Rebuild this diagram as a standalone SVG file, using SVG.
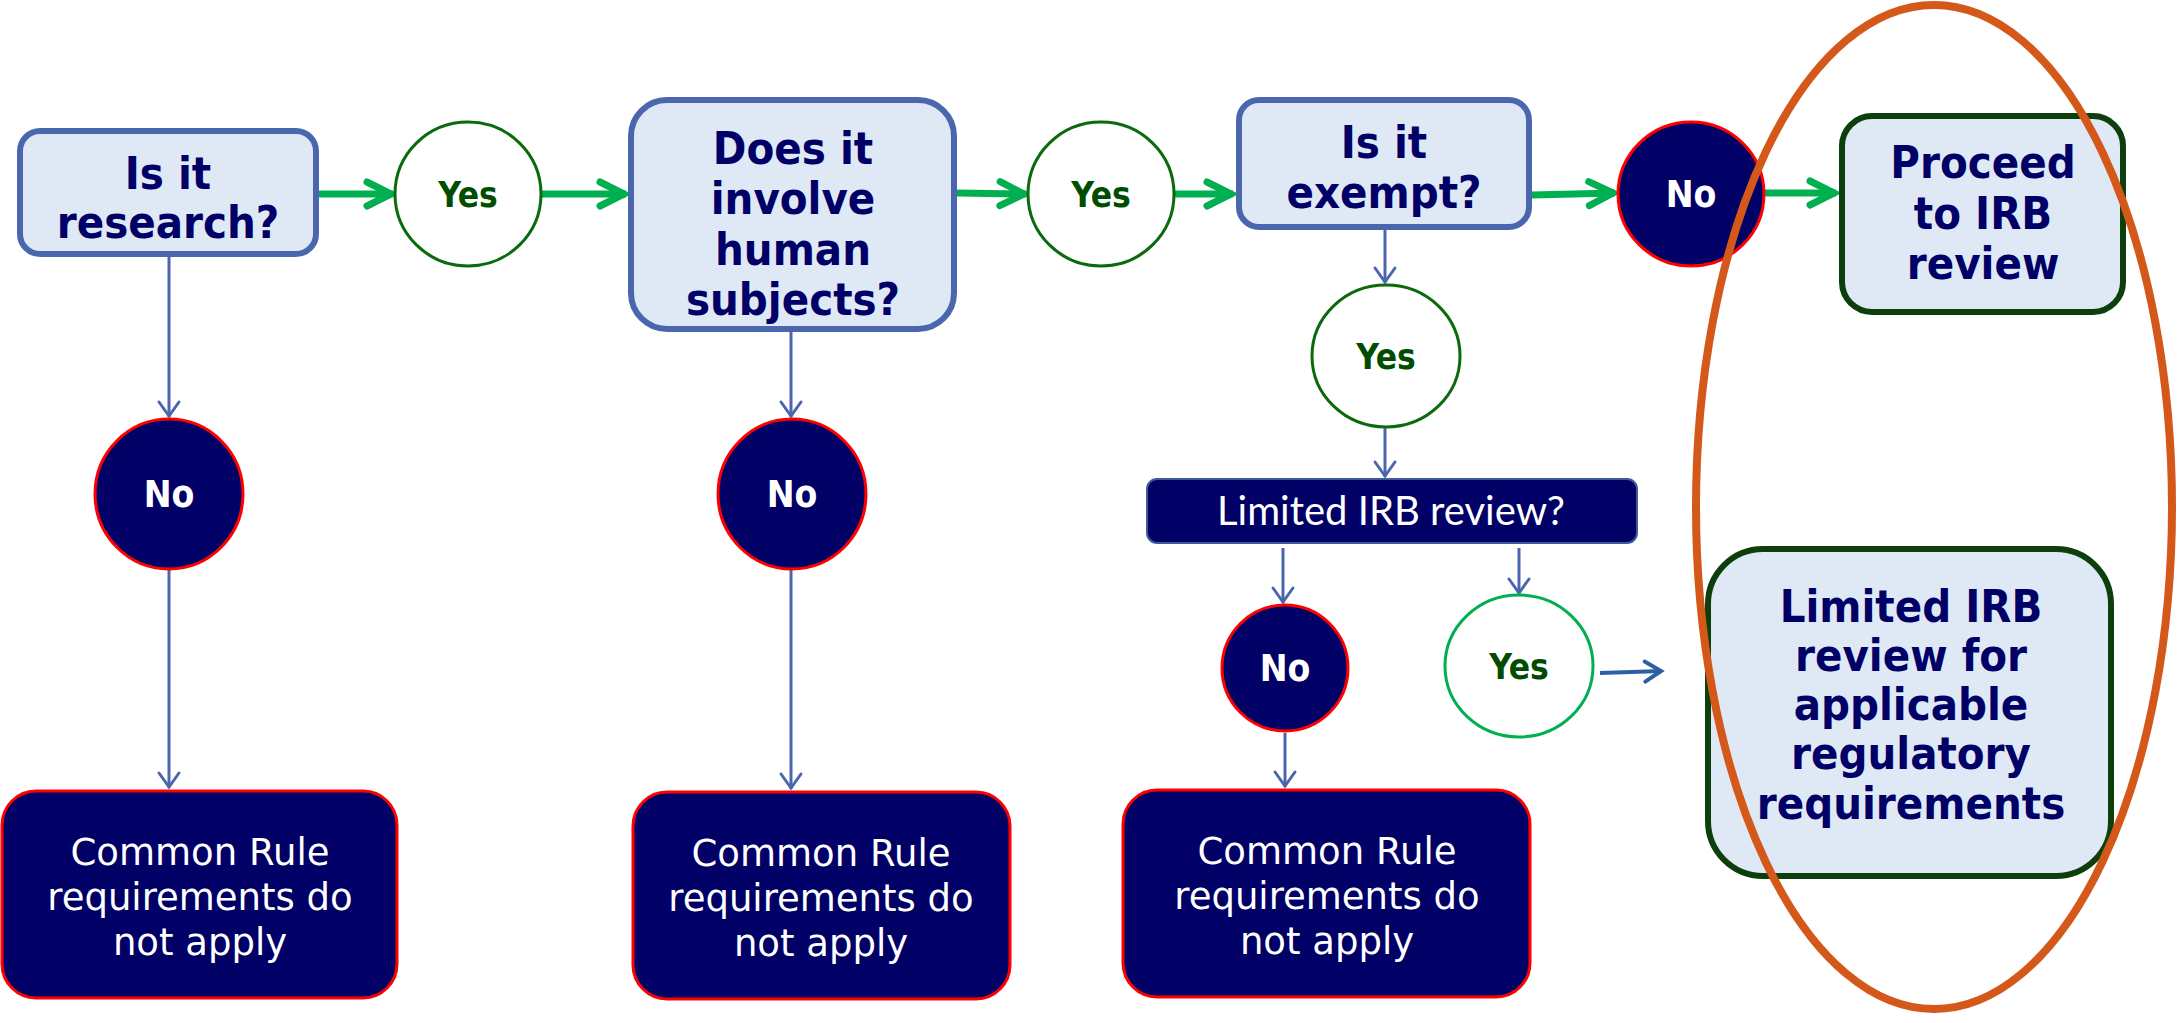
<svg xmlns="http://www.w3.org/2000/svg" width="2177" height="1023" viewBox="0 0 2177 1023">
  <defs>
    <style>
      .q { font-family: "DejaVu Sans Condensed", "DejaVu Sans", sans-serif; font-stretch: condensed; font-weight: bold; font-size: 45px; fill: #000066; text-anchor: middle; }
      .yes { font-family: "DejaVu Sans Condensed", "DejaVu Sans", sans-serif; font-stretch: condensed; font-weight: bold; font-size: 35px; fill: #004d00; text-anchor: middle; }
      .no { font-family: "DejaVu Sans Condensed", "DejaVu Sans", sans-serif; font-stretch: condensed; font-weight: bold; font-size: 37px; fill: #ffffff; text-anchor: middle; }
      .out { font-family: "DejaVu Sans", "Liberation Sans", sans-serif; font-size: 37px; fill: #ffffff; text-anchor: middle; }
      .lim { font-family: Lato, "Liberation Sans", sans-serif; font-size: 40px; fill: #ffffff; text-anchor: middle; }
      .qbox { fill: #dfe9f5; stroke: #4a67ad; stroke-width: 6; }
      .goal { fill: #dfe9f5; stroke: #0d3f0d; stroke-width: 6; }
      .yesc { fill: #ffffff; stroke: #0b6a0b; stroke-width: 3; }
      .yesl { fill: #ffffff; stroke: #00b050; stroke-width: 3; }
      .noc { fill: #000066; stroke: #ff0000; stroke-width: 3; }
      .endbox { fill: #000066; stroke: #ff0000; stroke-width: 3; }
      .green { fill: none; stroke: #00b050; stroke-width: 7; }
      .blue { fill: none; stroke: #4a67ad; stroke-width: 3; }
      .blue2 { fill: none; stroke: #2e5fa3; stroke-width: 4; }
    </style>
    <marker id="ag" markerUnits="userSpaceOnUse" viewBox="-32 -20 40 40" markerWidth="40" markerHeight="40" refX="0" refY="0" orient="auto">
      <path d="M-26,-12 L-2,0 L-26,12" fill="none" stroke="#00b050" stroke-width="7" stroke-linecap="round" stroke-linejoin="miter"/>
    </marker>
    <marker id="ab" markerUnits="userSpaceOnUse" viewBox="-20 -14 28 28" markerWidth="28" markerHeight="28" refX="0" refY="0" orient="auto">
      <path d="M-15,-10 L-1,0 L-15,10" fill="none" stroke="#4a67ad" stroke-width="3" stroke-linecap="round"/>
    </marker>
    <marker id="ab2" markerUnits="userSpaceOnUse" viewBox="-24 -16 32 32" markerWidth="32" markerHeight="32" refX="0" refY="0" orient="auto">
      <path d="M-17,-10 L-1,0 L-17,10" fill="none" stroke="#2e5fa3" stroke-width="4" stroke-linecap="round"/>
    </marker>
  </defs>

  <rect width="2177" height="1023" fill="#ffffff"/>

  <!-- connectors -->
  <g id="connectors">
    <line class="green" x1="319" y1="194" x2="393" y2="194" marker-end="url(#ag)"/>
    <line class="green" x1="542" y1="194" x2="626" y2="194" marker-end="url(#ag)"/>
    <line class="green" x1="957" y1="193" x2="1026" y2="194" marker-end="url(#ag)"/>
    <line class="green" x1="1174" y1="194" x2="1233" y2="194" marker-end="url(#ag)"/>
    <line class="green" x1="1532" y1="195" x2="1615" y2="193" marker-end="url(#ag)"/>
    <line class="green" x1="1764" y1="193" x2="1836" y2="193" marker-end="url(#ag)"/>

    <line class="blue" x1="169" y1="257" x2="169" y2="417" marker-end="url(#ab)"/>
    <line class="blue" x1="169" y1="569" x2="169" y2="788" marker-end="url(#ab)"/>
    <line class="blue" x1="791" y1="332" x2="791" y2="417" marker-end="url(#ab)"/>
    <line class="blue" x1="791" y1="569" x2="791" y2="789" marker-end="url(#ab)"/>
    <line class="blue" x1="1385" y1="230" x2="1385" y2="283" marker-end="url(#ab)"/>
    <line class="blue" x1="1385" y1="428" x2="1385" y2="477" marker-end="url(#ab)"/>
    <line class="blue" x1="1283" y1="548" x2="1283" y2="603" marker-end="url(#ab)"/>
    <line class="blue" x1="1519" y1="548" x2="1519" y2="594" marker-end="url(#ab)"/>
    <line class="blue" x1="1285" y1="733" x2="1285" y2="787" marker-end="url(#ab)"/>
    <line class="blue2" x1="1600" y1="673" x2="1662" y2="671" marker-end="url(#ab2)"/>
  </g>

  <!-- first question -->
  <g id="q-research">
    <rect class="qbox" x="20" y="131" width="296" height="123" rx="20"/>
    <text class="q" x="168" y="189">Is it</text>
    <text class="q" x="168" y="238">research?</text>
  </g>

  <g id="yes-1">
    <ellipse class="yesc" cx="468" cy="194" rx="73" ry="72"/>
    <text class="yes" x="468" y="207">Yes</text>
  </g>

  <!-- second question -->
  <g id="q-human">
    <rect class="qbox" x="631" y="100" width="323" height="229" rx="36"/>
    <text class="q" x="793" y="164">Does it</text>
    <text class="q" x="793" y="214">involve</text>
    <text class="q" x="793" y="265">human</text>
    <text class="q" x="793" y="315">subjects?</text>
  </g>

  <g id="yes-2">
    <ellipse class="yesc" cx="1101" cy="194" rx="73" ry="72"/>
    <text class="yes" x="1101" y="207">Yes</text>
  </g>

  <!-- third question -->
  <g id="q-exempt">
    <rect class="qbox" x="1239" y="100" width="290" height="127" rx="20"/>
    <text class="q" x="1384" y="158">Is it</text>
    <text class="q" x="1384" y="208">exempt?</text>
  </g>

  <g id="no-exempt">
    <ellipse class="noc" cx="1691" cy="194" rx="73" ry="72"/>
    <text class="no" x="1691" y="207">No</text>
  </g>

  <g id="proceed">
    <rect class="goal" x="1842" y="116" width="281" height="196" rx="30"/>
    <text class="q" x="1983" y="178">Proceed</text>
    <text class="q" x="1983" y="229">to IRB</text>
    <text class="q" x="1983" y="279">review</text>
  </g>

  <g id="no-research">
    <ellipse class="noc" cx="169" cy="494" rx="74" ry="75"/>
    <text class="no" x="169" y="507">No</text>
  </g>

  <g id="no-human">
    <ellipse class="noc" cx="792" cy="494" rx="74" ry="75"/>
    <text class="no" x="792" y="507">No</text>
  </g>

  <g id="yes-exempt">
    <ellipse class="yesc" cx="1386" cy="356" rx="74" ry="71"/>
    <text class="yes" x="1386" y="369">Yes</text>
  </g>

  <g id="q-limited">
    <rect x="1147" y="479" width="490" height="64" rx="10" fill="#000066" stroke="#3f5a9a" stroke-width="2"/>
    <text class="lim" x="1391" y="525">Limited IRB review?</text>
  </g>

  <g id="no-limited">
    <ellipse class="noc" cx="1285" cy="668" rx="63" ry="63"/>
    <text class="no" x="1285" y="681">No</text>
  </g>

  <g id="yes-limited">
    <ellipse class="yesl" cx="1519" cy="666" rx="74" ry="71"/>
    <text class="yes" x="1519" y="679">Yes</text>
  </g>

  <g id="limited-review">
    <rect class="goal" x="1708" y="549" width="403" height="327" rx="55"/>
    <text class="q" x="1911" y="622">Limited IRB</text>
    <text class="q" x="1911" y="671">review for</text>
    <text class="q" x="1911" y="720">applicable</text>
    <text class="q" x="1911" y="769">regulatory</text>
    <text class="q" x="1911" y="819">requirements</text>
  </g>

  <g id="end-research">
    <rect class="endbox" x="2" y="791" width="395" height="207" rx="34"/>
    <text class="out" x="200" y="865">Common Rule</text>
    <text class="out" x="200" y="910">requirements do</text>
    <text class="out" x="200" y="955">not apply</text>
  </g>

  <g id="end-human">
    <rect class="endbox" x="633" y="792" width="377" height="207" rx="34"/>
    <text class="out" x="821" y="866">Common Rule</text>
    <text class="out" x="821" y="911">requirements do</text>
    <text class="out" x="821" y="956">not apply</text>
  </g>

  <g id="end-exempt">
    <rect class="endbox" x="1123" y="790" width="407" height="207" rx="34"/>
    <text class="out" x="1327" y="864">Common Rule</text>
    <text class="out" x="1327" y="909">requirements do</text>
    <text class="out" x="1327" y="954">not apply</text>
  </g>

  <!-- highlight ring around the review outcomes -->
  <g id="highlight">
    <ellipse cx="1934" cy="507" rx="238" ry="502" fill="none" stroke="#d4581a" stroke-width="8"/>
  </g>
</svg>
